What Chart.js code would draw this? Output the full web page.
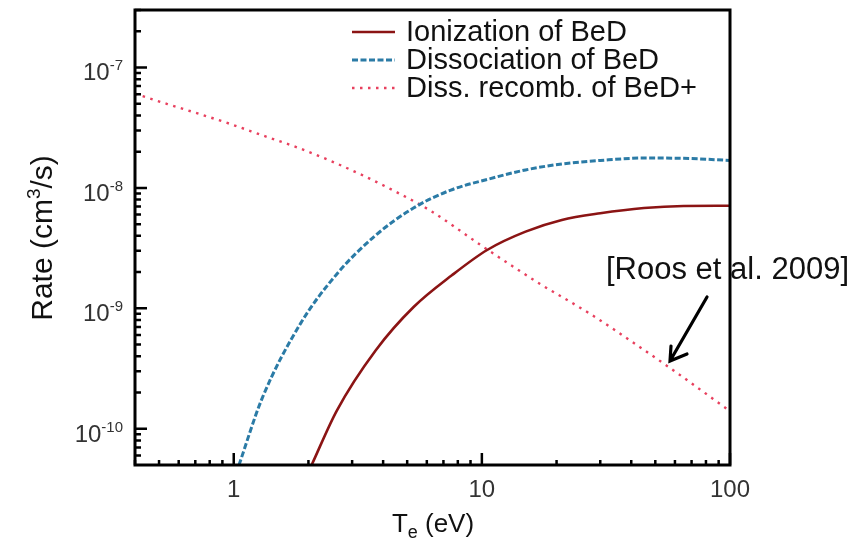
<!DOCTYPE html>
<html>
<head>
<meta charset="utf-8">
<title>BeD rates</title>
<script src="https://cdn.jsdelivr.net/npm/chart.js@4"></script>
<style>
  html, body { margin: 0; padding: 0; background: #fff; }
  #wrap { width: 866px; height: 542px; }
</style>
</head>
<body>
<div id="wrap"><canvas id="chart" width="866" height="542"></canvas></div>
<script>
// ==================== DATOS ====================
const tempIon = [2.06, 2.6, 3.73, 5.32, 7.57, 10.5, 15, 21, 30, 45, 65, 100];
const rateIon = [5e-11, 1.41e-10, 4.47e-10, 1.03e-9, 1.88e-9, 3.05e-9, 4.33e-9, 5.41e-9, 6.15e-9, 6.8e-9, 7.07e-9, 7.1e-9];

const tempDiss = [1.05, 1.3, 1.86, 2.6, 3.7, 5.3, 7.5, 10.6, 15, 21, 30, 45, 65, 100];
const rateDiss = [5e-11, 1.78e-10, 7.5e-10, 1.92e-9, 3.98e-9, 6.8e-9, 9.6e-9, 1.18e-8, 1.41e-8, 1.58e-8, 1.69e-8, 1.77e-8, 1.76e-8, 1.69e-8];

const tempRec = [0.4, 0.54, 0.73, 0.97, 1.32, 1.8, 2.45, 3.34, 4.55, 6.2, 10.2, 17.2, 27.3, 43.4, 59.2, 100];
const rateRec = [6.05e-8, 4.97e-8, 4.10e-8, 3.39e-8, 2.71e-8, 2.17e-8, 1.68e-8, 1.26e-8, 9.18e-9, 6.47e-9, 3.21e-9, 1.59e-9, 9.0e-10, 4.75e-10, 3.05e-10, 1.4e-10];

const seriesNames = ['Ionization of BeD', 'Dissociation of BeD', 'Diss. recomb. of BeD+'];
const xTickValues = [1, 10, 100];
const xTickLabels = ['1', '10', '100'];
const yTickValues = [1e-10, 1e-9, 1e-8, 1e-7];
const yTickExponents = ['-10', '-9', '-8', '-7'];
const noteText = '[Roos et al. 2009]';

// ==================== ESTILO ====================
const FONT = '"Liberation Sans", Arial, sans-serif';
const colors = ['#8b1414', '#2b7ba6', '#e8405e'];
const dashes = [[], [6, 2.5], [2.5, 5.5]];
const widths = [2.6, 3, 2.4];

function toPoints(xs, ys) {
    return xs.map((x, i) => ({ x: x, y: ys[i] }));
}

// ==================== PLUGIN ====================
const decorations = {
    id: 'decorations',
    afterDraw(chart) {
        const ctx = chart.ctx;
        const xs = chart.scales.x;
        const ys = chart.scales.y;
        const a = chart.chartArea;

        ctx.save();

        // ticks hacia dentro
        ctx.strokeStyle = '#000';
        ctx.lineWidth = 2.5;
        ctx.beginPath();
        for (let e = -1; e <= 2; e++) {
            for (let m = 1; m <= 9; m++) {
                const v = m * Math.pow(10, e);
                if (v < xs.min || v > xs.max) continue;
                const px = xs.getPixelForValue(v);
                const len = m === 1 ? 12 : 5;
                ctx.moveTo(px, a.bottom);
                ctx.lineTo(px, a.bottom - len);
            }
        }
        for (let e = -11; e <= -7; e++) {
            for (let m = 1; m <= 9; m++) {
                const v = m * Math.pow(10, e);
                if (v < ys.min || v > ys.max) continue;
                const py = ys.getPixelForValue(v);
                const len = m === 1 ? 12 : 6;
                ctx.moveTo(a.left, py);
                ctx.lineTo(a.left + len, py);
            }
        }
        ctx.stroke();

        // anotación
        ctx.fillStyle = '#111';
        ctx.font = '31px ' + FONT;
        ctx.textAlign = 'left';
        ctx.textBaseline = 'middle';
        ctx.fillText(noteText, 606, 270);

        // marco
        ctx.lineWidth = 3;
        ctx.strokeRect(a.left, a.top, a.right - a.left, a.bottom - a.top);

        // flecha
        ctx.lineWidth = 3.2;
        ctx.lineCap = 'round';
        ctx.beginPath();
        ctx.moveTo(707, 297);
        ctx.lineTo(670, 361);
        ctx.moveTo(671, 346);
        ctx.lineTo(670, 361);
        ctx.lineTo(687, 354);
        ctx.stroke();
        ctx.lineCap = 'butt';

        // etiquetas eje x
        ctx.fillStyle = '#333';
        ctx.font = '24px ' + FONT;
        ctx.textAlign = 'center';
        ctx.textBaseline = 'alphabetic';
        xTickValues.forEach((v, i) => {
            ctx.fillText(xTickLabels[i], xs.getPixelForValue(v), 497);
        });

        // etiquetas eje y (10^n)
        yTickValues.forEach((v, i) => {
            const py = ys.getPixelForValue(v);
            ctx.font = '15px ' + FONT;
            const wExp = ctx.measureText(yTickExponents[i]).width;
            ctx.textAlign = 'right';
            ctx.fillText(yTickExponents[i], 123, py + 3);
            ctx.font = '24px ' + FONT;
            ctx.fillText('10', 123 - wExp, py + 13);
        });

        // título eje x: T_e (eV)
        ctx.fillStyle = '#111';
        ctx.textAlign = 'left';
        ctx.font = '26px ' + FONT;
        const wT = ctx.measureText('T').width;
        const wRest = ctx.measureText(' (eV)').width;
        ctx.font = '18px ' + FONT;
        const wSub = ctx.measureText('e').width;
        let x0 = 433 - (wT + wSub + wRest) / 2;
        ctx.font = '26px ' + FONT;
        ctx.fillText('T', x0, 532);
        ctx.font = '18px ' + FONT;
        ctx.fillText('e', x0 + wT, 538);
        ctx.font = '26px ' + FONT;
        ctx.fillText(' (eV)', x0 + wT + wSub, 532);

        // título eje y: Rate (cm³/s)
        ctx.save();
        ctx.translate(52, 238);
        ctx.rotate(-Math.PI / 2);
        ctx.font = '30px ' + FONT;
        const p1 = 'Rate (cm';
        const p2 = '/s)';
        const w1 = ctx.measureText(p1).width;
        const w2 = ctx.measureText(p2).width;
        ctx.font = '19px ' + FONT;
        const w3 = ctx.measureText('3').width;
        let sx = -(w1 + w3 + w2) / 2;
        ctx.font = '30px ' + FONT;
        ctx.fillText(p1, sx, 0);
        ctx.font = '19px ' + FONT;
        ctx.fillText('3', sx + w1, -12);
        ctx.font = '30px ' + FONT;
        ctx.fillText(p2, sx + w1 + w3, 0);
        ctx.restore();

        // leyenda
        const rowsY = [32, 60, 88];
        ctx.font = '29px ' + FONT;
        ctx.textBaseline = 'middle';
        seriesNames.forEach((name, i) => {
            ctx.strokeStyle = colors[i];
            ctx.lineWidth = widths[i];
            ctx.setLineDash(dashes[i]);
            ctx.beginPath();
            ctx.moveTo(352, rowsY[i]);
            ctx.lineTo(395, rowsY[i]);
            ctx.stroke();
            ctx.setLineDash([]);
            ctx.fillStyle = '#111';
            ctx.fillText(name, 406, rowsY[i] + 1);
        });

        ctx.restore();
    }
};

// ==================== CHART ====================
const ctx = document.getElementById('chart').getContext('2d');

const datasets = [
    toPoints(tempIon, rateIon),
    toPoints(tempDiss, rateDiss),
    toPoints(tempRec, rateRec)
].map((pts, i) => ({
    label: seriesNames[i],
    data: pts,
    borderColor: colors[i],
    borderWidth: widths[i],
    borderDash: dashes[i],
    pointRadius: 0,
    fill: false,
    cubicInterpolationMode: 'monotone'
}));

const hiddenAxis = {
    grid: { display: false, drawTicks: false, tickLength: 0 },
    border: { display: false },
    ticks: { display: false, padding: 0 }
};

const chart = new Chart(ctx, {
    type: 'line',
    data: { datasets: datasets },
    options: {
        animation: false,
        responsive: false,
        devicePixelRatio: 1,
        layout: { padding: { left: 135, right: 136, top: 10, bottom: 77 } },
        plugins: {
            legend: { display: false },
            tooltip: { enabled: false }
        },
        scales: {
            x: Object.assign({ type: 'logarithmic', min: 0.4, max: 100 }, hiddenAxis),
            y: Object.assign({ type: 'logarithmic', min: 5e-11, max: 3e-7 }, hiddenAxis)
        }
    },
    plugins: [decorations]
});
</script>
</body>
</html>
